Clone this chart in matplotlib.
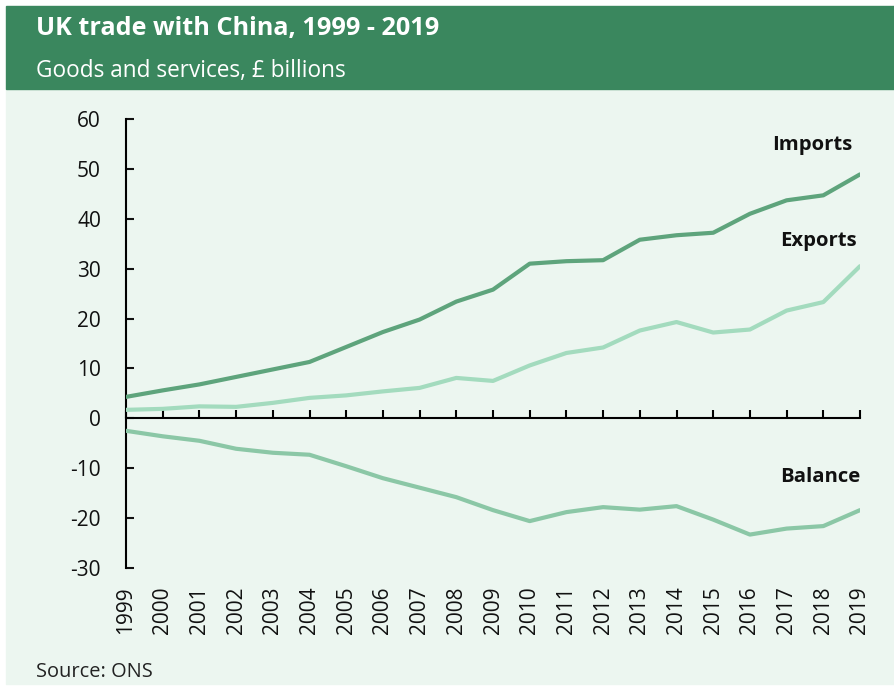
import matplotlib

matplotlib.use("Agg")
import matplotlib.pyplot as plt
from matplotlib.patches import Rectangle

plt.rcParams["font.family"] = ["Open Sans", "DejaVu Sans"]

years = list(range(1999, 2020))
imports = [4.3, 5.6, 6.8, 8.3, 9.8, 11.3, 14.3, 17.3, 19.8, 23.4, 25.8,
           31.0, 31.5, 31.7, 35.8, 36.7, 37.2, 41.0, 43.7, 44.7, 48.9]
exports = [1.7, 1.9, 2.4, 2.3, 3.1, 4.1, 4.6, 5.4, 6.1, 8.1, 7.5,
           10.6, 13.1, 14.2, 17.6, 19.3, 17.2, 17.8, 21.6, 23.3, 30.5]
balance = [-2.5, -3.6, -4.5, -6.1, -6.9, -7.3, -9.6, -12.0, -13.9, -15.8, -18.4,
           -20.6, -18.8, -17.8, -18.3, -17.6, -20.3, -23.3, -22.1, -21.6, -18.4]
y_ticks = [-30, -20, -10, 0, 10, 20, 30, 40, 50, 60]

BAND = "#3a875e"
PANEL = "#ecf6f0"
C_IMP = "#5ea47c"
C_EXP = "#a3dbbe"
C_BAL = "#8bc7a6"

W, H = 895, 686
fig = plt.figure(figsize=(W / 100, H / 100), dpi=100, facecolor="white")

# background panel and header band (pixel coords -> figure fraction)
fig.patches.append(Rectangle((6 / W, 2 / H), 1 - 6 / W, 1 - 89 / H - 2 / H,
                             transform=fig.transFigure, color=PANEL, zorder=-10))
fig.patches.append(Rectangle((6 / W, 1 - 89 / H), 1 - 6 / W, 83 / H,
                             transform=fig.transFigure, color=BAND, zorder=-10))

fig.text(36 / W, 1 - 28 / H, "UK trade with China, 1999 - 2019", color="white",
         fontsize=18.2, fontweight="bold", va="center", ha="left")
fig.text(36 / W, 1 - 71 / H, "Goods and services, £ billions", color="white",
         fontsize=16.3, va="center", ha="left")
fig.text(36 / W, 1 - 672 / H, "Source: ONS", color="#222222",
         fontsize=14.4, va="center", ha="left")

ax = fig.add_axes([126 / W, 1 - 568 / H, (860 - 126) / W, (568 - 119) / H])
ax.set_facecolor("none")

ax.plot(years, imports, color=C_IMP, lw=3, solid_capstyle="round", zorder=3)
ax.plot(years, exports, color=C_EXP, lw=3, solid_capstyle="round", zorder=3)
ax.plot(years, balance, color=C_BAL, lw=3, solid_capstyle="round", zorder=3)

ax.set_xlim(1999, 2019)
ax.set_ylim(-30, 60)
ax.set_yticks(y_ticks)
ax.set_yticklabels([str(v) for v in y_ticks])

for side in ("top", "right"):
    ax.spines[side].set_visible(False)
ax.spines["left"].set_linewidth(1.5)
ax.spines["bottom"].set_position(("data", 0))
ax.spines["bottom"].set_linewidth(1.5)

ax.tick_params(axis="y", direction="in", length=6, width=1.5, pad=18,
               labelsize=15, colors="#111111")
ax.set_xticks(years)
ax.tick_params(axis="x", direction="in", length=6, width=1.5,
               labelbottom=False)

# year labels below the plot area
sec = ax.secondary_xaxis(0)
sec.set_xticks(years)
sec.set_xticklabels([str(y) for y in years], rotation=90)
sec.spines["bottom"].set_visible(False)
sec.tick_params(length=0, pad=13.5, labelsize=15, colors="#111111")

ax.text(2018.8, 54.8, "Imports", ha="right", va="center", fontsize=14.6,
        fontweight="bold", color="#111111")
ax.text(2018.9, 35.6, "Exports", ha="right", va="center", fontsize=14.6,
        fontweight="bold", color="#111111")
ax.text(2019.0, -11.8, "Balance", ha="right", va="center", fontsize=14.6,
        fontweight="bold", color="#111111")

fig.savefig("out.png", dpi=100, facecolor=fig.get_facecolor())
